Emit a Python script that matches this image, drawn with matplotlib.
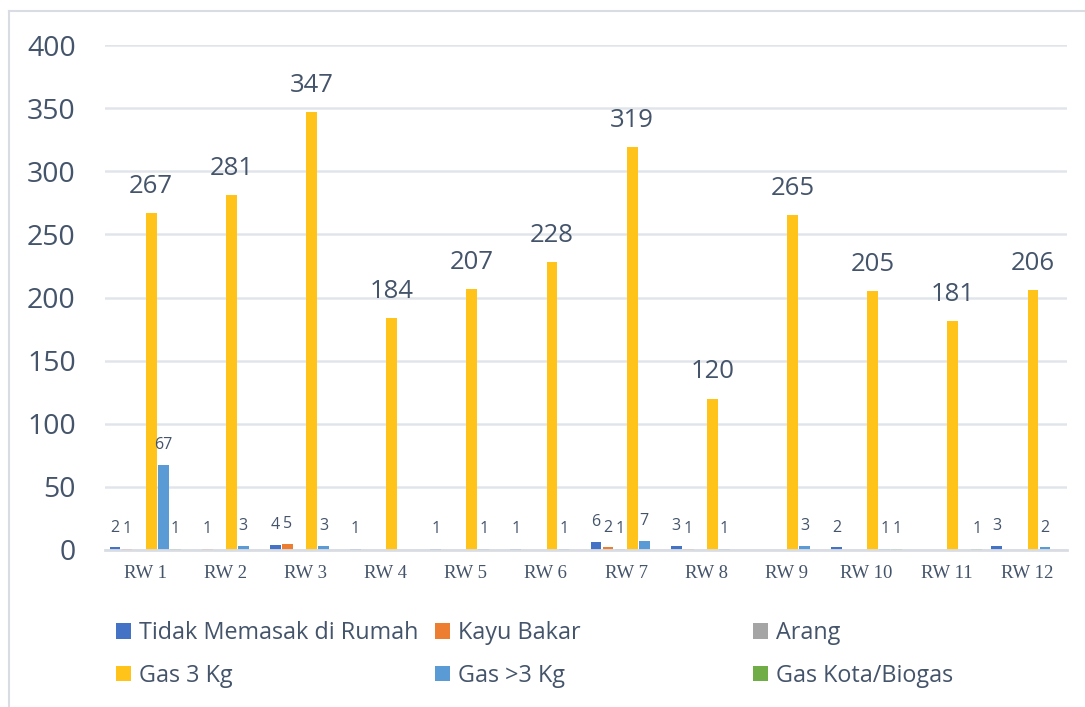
import matplotlib.pyplot as plt
import numpy as np
from matplotlib.lines import Line2D

kategori = ['RW 1', 'RW 2', 'RW 3', 'RW 4', 'RW 5', 'RW 6',
            'RW 7', 'RW 8', 'RW 9', 'RW 10', 'RW 11', 'RW 12']

tidak_memasak = [2, 0, 4, 1, 1, 1, 6, 3, 0, 2, 0, 3]
kayu_bakar = [1, 1, 5, 0, 0, 0, 2, 1, 0, 0, 0, 0]
arang = [0, 0, 0, 0, 0, 0, 1, 0, 0, 0, 0, 0]
gas_3kg = [267, 281, 347, 184, 207, 228, 319, 120, 265, 205, 181, 206]
gas_lebih_3kg = [67, 3, 3, 0, 1, 1, 7, 1, 3, 1, 0, 2]
gas_kota = [1, 0, 0, 0, 0, 0, 0, 0, 0, 1, 1, 0]

seri = [
    ('Tidak Memasak di Rumah', tidak_memasak, '#4472c4'),
    ('Kayu Bakar', kayu_bakar, '#ed7d31'),
    ('Arang', arang, '#a5a5a5'),
    ('Gas 3 Kg', gas_3kg, '#ffc31a'),
    ('Gas >3 Kg', gas_lebih_3kg, '#5b9bd5'),
    ('Gas Kota/Biogas', gas_kota, '#70ad47'),
]

warna_teks = '#44546a'
sans = ['Open Sans', 'DejaVu Sans']

fig = plt.figure(figsize=(10.85, 7.07), dpi=100)
ax = fig.add_axes([105 / 1085, 157 / 707, 962 / 1085, 505 / 707])

x = np.arange(len(kategori))
langkah = 0.15
lebar = 0.135
wadah = []
for i, (nama, nilai, warna) in enumerate(seri):
    pos = x + (i - 2.5) * langkah
    b = ax.bar(pos, nilai, width=lebar, color=warna, label=nama, zorder=3)
    wadah.append(b)
    for px_, v in zip(pos, nilai):
        if v == 0:
            continue
        besar = nama == 'Gas 3 Kg'
        ax.annotate(str(v), (px_, v), xytext=(0, 14.4 if besar else 11.5),
                    textcoords='offset points', ha='center', va='baseline',
                    fontsize=18.5 if besar else 11.5, color=warna_teks,
                    family=sans, zorder=4)

ax.set_xlim(-0.5, len(kategori) - 0.5)
ax.set_ylim(0, 400)
ax.set_yticks(range(0, 401, 50))
ax.set_xticks(x)
ax.set_xticklabels(kategori, family='Liberation Serif', fontsize=13.5,
                   color=warna_teks)
for t in ax.get_yticklabels():
    t.set_family(sans)
    t.set_fontsize(20.5)
    t.set_color(warna_teks)
ax.tick_params(axis='y', length=0, pad=21)
ax.tick_params(axis='x', length=0, pad=11)
ax.grid(axis='y', color='#e1e5ea', linewidth=1.8, zorder=0)
for s in ['top', 'right', 'left']:
    ax.spines[s].set_visible(False)
ax.spines['bottom'].set_color('#d9dde3')
ax.spines['bottom'].set_linewidth(2)
ax.spines['bottom'].set_zorder(5)

# legenda tiga kolom
kolom = [(0, 3), (1, 4), (2, 5)]
posisi_x = [116 / 1085, 435 / 1085, 753 / 1085]
for (a, b), xx in zip(kolom, posisi_x):
    lg = fig.legend([wadah[a], wadah[b]], [seri[a][0], seri[b][0]],
                    loc='upper left', bbox_to_anchor=(xx, 1 - 621 / 707),
                    frameon=False, borderpad=0, borderaxespad=0,
                    handlelength=0.65, handleheight=0.65, handletextpad=0.35,
                    labelspacing=0.8, prop={'family': sans, 'size': 16.8})
    for t in lg.get_texts():
        t.set_color(warna_teks)

# bingkai grafik
fig.add_artist(Line2D([9 / 1085, 9 / 1085], [0, 1 - 11 / 707],
                      transform=fig.transFigure, color='#d9dde3', linewidth=1.5))
fig.add_artist(Line2D([9 / 1085, 1], [1 - 11 / 707, 1 - 11 / 707],
                      transform=fig.transFigure, color='#d9dde3', linewidth=1.5))

fig.savefig('out.png', dpi=100)
